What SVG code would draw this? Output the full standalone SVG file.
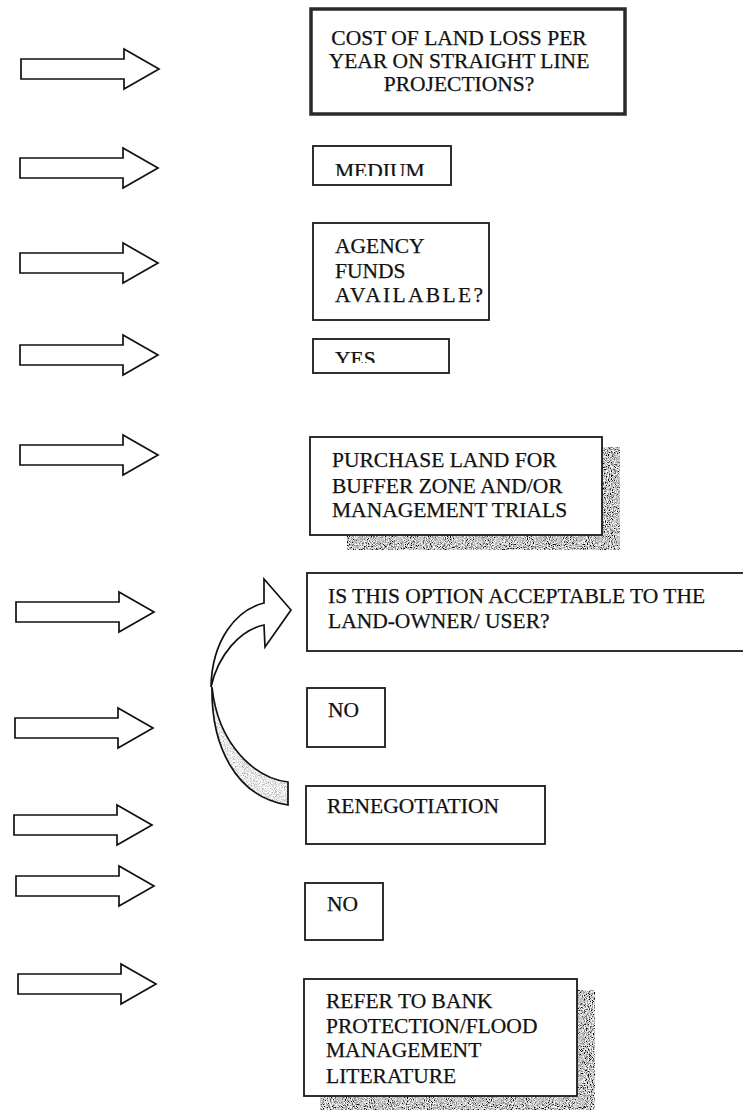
<svg xmlns="http://www.w3.org/2000/svg" width="743" height="1110" viewBox="0 0 743 1110">
  <style>
    .box { fill: #fff; stroke: #1a1a1a; stroke-width: 1.8; }
    .box-heavy { fill: #fff; stroke: #2a2a2a; stroke-width: 3.5; }
    .lbl { font-family: "Liberation Serif", "Times New Roman", serif; font-size: 21.5px; fill: #111; stroke: #111; stroke-width: 0.25; }
    .side { fill: #fff; stroke: #111; stroke-width: 1.7; stroke-linejoin: miter; }
    .ribbon { fill: #fff; stroke: #111; stroke-width: 1.7; stroke-linejoin: miter; }
    .ribbon-back { stroke: #111; stroke-width: 1.7; }
  </style>
  <defs>
    <!-- block arrow pointing right, origin at left end of shaft, centred vertically -->
    <path id="blockArrow" d="M0,-10 L103,-10 L103,-20 L138,0 L103,20 L103,10 L0,10 Z"/>
    <!-- grainy dark drop shadow -->
    <filter id="grainDark" x="0" y="0" width="100%" height="100%">
      <feTurbulence type="fractalNoise" baseFrequency="0.95" numOctaves="2" seed="4" result="n"/>
      <feColorMatrix in="n" type="matrix" values="2.6 0 0 0 -0.75  2.6 0 0 0 -0.75  2.6 0 0 0 -0.75  0 0 0 0 1" result="g"/>
      <feComposite in="g" in2="SourceAlpha" operator="in"/>
    </filter>
    <!-- light stipple for the back face of the curved arrow -->
    <filter id="grainLight" x="0" y="0" width="100%" height="100%">
      <feTurbulence type="fractalNoise" baseFrequency="1.1" numOctaves="2" seed="9" result="n"/>
      <feColorMatrix in="n" type="matrix" values="1.6 0 0 0 0.02  1.6 0 0 0 0.02  1.6 0 0 0 0.02  0 0 0 0 1" result="g"/>
      <feComposite in="g" in2="SourceAlpha" operator="in"/>
    </filter>
    <clipPath id="clipMedium"><rect x="313" y="140" width="140" height="36"/></clipPath>
    <clipPath id="clipYes"><rect x="313" y="330" width="140" height="33"/></clipPath>
  </defs>

  <!-- left-hand block arrows -->
  <g id="side-arrows">
    <use href="#blockArrow" class="side" transform="translate(21,69)"/>
    <use href="#blockArrow" class="side" transform="translate(20,168)"/>
    <use href="#blockArrow" class="side" transform="translate(20,263)"/>
    <use href="#blockArrow" class="side" transform="translate(20,355)"/>
    <use href="#blockArrow" class="side" transform="translate(20,455)"/>
    <use href="#blockArrow" class="side" transform="translate(16,612)"/>
    <use href="#blockArrow" class="side" transform="translate(15,728)"/>
    <use href="#blockArrow" class="side" transform="translate(14,825)"/>
    <use href="#blockArrow" class="side" transform="translate(16,886)"/>
    <use href="#blockArrow" class="side" transform="translate(18,984)"/>
  </g>

  <!-- curved return arrow from RENEGOTIATION back to the acceptance question -->
  <g id="connectors">
    <path fill="#d6d6d6" filter="url(#grainLight)" d="M212,687 C211,745 235,797 288,805 L288,782 C255,778 218,745 212,687 Z"/>
    <path fill="none" class="ribbon-back" d="M212,687 C211,745 235,797 288,805 L288,782 C255,778 218,745 212,687 Z"/>
    <path class="ribbon" d="M264,603 C236,610 212,640 211,687 C218,655 240,630 264,625 L265,647 L291,610 L264,579 Z"/>
  </g>

  <g id="n-cost">
    <rect class="box-heavy" x="311" y="9" width="314" height="105"/>
    <text class="lbl" text-anchor="middle" x="459" y="45">COST OF LAND LOSS PER</text>
    <text class="lbl" text-anchor="middle" x="459" y="68">YEAR ON STRAIGHT LINE</text>
    <text class="lbl" text-anchor="middle" x="459" y="91">PROJECTIONS?</text>
  </g>

  <g id="n-medium">
    <rect class="box" x="313" y="146" width="138" height="39"/>
    <text class="lbl" x="335" y="178" clip-path="url(#clipMedium)">MEDIUM</text>
  </g>

  <g id="n-funds">
    <rect class="box" x="313" y="223" width="176" height="97"/>
    <text class="lbl" x="335" y="253">AGENCY</text>
    <text class="lbl" x="335" y="278">FUNDS</text>
    <text class="lbl" x="335" y="302" textLength="148" lengthAdjust="spacing">AVAILABLE?</text>
  </g>

  <g id="n-yes">
    <rect class="box" x="313" y="339" width="136" height="34"/>
    <text class="lbl" x="335" y="366" clip-path="url(#clipYes)">YES</text>
  </g>

  <g id="n-purchase">
    <path fill="#888" filter="url(#grainDark)" d="M602,447 L620,447 L620,550 L347,550 L347,535 L602,535 Z"/>
    <rect class="box" x="310" y="437" width="292" height="98"/>
    <text class="lbl" x="332" y="467">PURCHASE LAND FOR</text>
    <text class="lbl" x="332" y="493">BUFFER ZONE AND/OR</text>
    <text class="lbl" x="332" y="517">MANAGEMENT TRIALS</text>
  </g>

  <g id="n-acceptable">
    <rect class="box" x="307" y="573" width="440" height="78"/>
    <text class="lbl" x="328" y="603">IS THIS OPTION ACCEPTABLE TO THE</text>
    <text class="lbl" x="328" y="628">LAND-OWNER/ USER?</text>
  </g>

  <g id="n-no-1">
    <rect class="box" x="307" y="688" width="78" height="59"/>
    <text class="lbl" x="328" y="717">NO</text>
  </g>

  <g id="n-renegotiation">
    <rect class="box" x="306" y="786" width="239" height="58"/>
    <text class="lbl" x="327" y="813">RENEGOTIATION</text>
  </g>

  <g id="n-no-2">
    <rect class="box" x="305" y="883" width="78" height="57"/>
    <text class="lbl" x="327" y="911">NO</text>
  </g>

  <g id="n-refer">
    <path fill="#888" filter="url(#grainDark)" d="M577,990 L595,990 L595,1110 L320,1110 L320,1096 L577,1096 Z"/>
    <rect class="box" x="304" y="979" width="273" height="117"/>
    <text class="lbl" x="326" y="1008">REFER TO BANK</text>
    <text class="lbl" x="326" y="1033">PROTECTION/FLOOD</text>
    <text class="lbl" x="326" y="1057">MANAGEMENT</text>
    <text class="lbl" x="326" y="1083">LITERATURE</text>
  </g>
</svg>
